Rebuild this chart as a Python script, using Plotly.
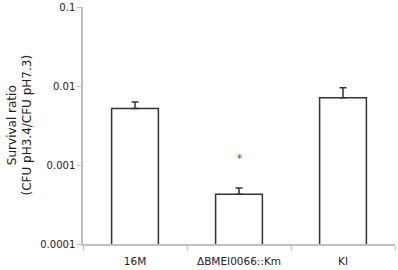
import math
import plotly.graph_objects as go

categories = ["16M", "ΔBMEI0066::Km", "KI"]
survival = [0.0052, 0.000426, 0.0071]
err_plus = [0.00107, 0.000086, 0.0024]
tick_vals = [0.0001, 0.001, 0.01, 0.1]
tick_text = ["0.0001", "0.001", "0.01", "0.1"]
y_title = "Survival ratio<br>(CFU pH3.4/CFU pH7.3)"
sig_label = "*"
sig_category = "ΔBMEI0066::Km"
sig_y = 0.0012

fig = go.Figure()
fig.add_trace(go.Bar(
    x=categories, y=survival, width=0.45,
    marker=dict(color="white", line=dict(color="#333333", width=1.5)),
    error_y=dict(type="data", symmetric=False, array=err_plus,
                 arrayminus=[0, 0, 0], color="#333333", thickness=1.5, width=3.5),
))
fig.add_annotation(x=sig_category, y=math.log10(sig_y), text=sig_label,
                   showarrow=False, font=dict(family="DejaVu Sans", size=10, color="#444"))
fig.add_annotation(xref="paper", yref="paper", x=0, y=0.5, xshift=-64,
                   xanchor="center", yanchor="middle", textangle=-90,
                   text=y_title, showarrow=False,
                   font=dict(family="DejaVu Sans", size=12, color="#222"))
fig.update_layout(
    width=398, height=270, margin=dict(l=83, r=3, t=7, b=26),
    plot_bgcolor="white", paper_bgcolor="white", showlegend=False,
    font=dict(family="DejaVu Sans", size=10.5, color="#222"),
    xaxis=dict(showline=True, linecolor="#c0c0c0", linewidth=1.5, automargin=False,
               ticks="outside", ticklen=4, tickcolor="#c0c0c0", tickson="boundaries",
               tickfont=dict(size=10.5), ticklabelstandoff=7),
    yaxis=dict(type="log", range=[-4, -1], tickvals=tick_vals, ticktext=tick_text,
               showline=True, linecolor="#c0c0c0", linewidth=1.5, showgrid=False,
               automargin=False, tickfont=dict(size=10),
               ticks="outside", ticklen=4, tickcolor="#c0c0c0"),
)
fig.write_html("out.html", config={"displayModeBar": False},
               post_script="document.body.style.margin='0';")
